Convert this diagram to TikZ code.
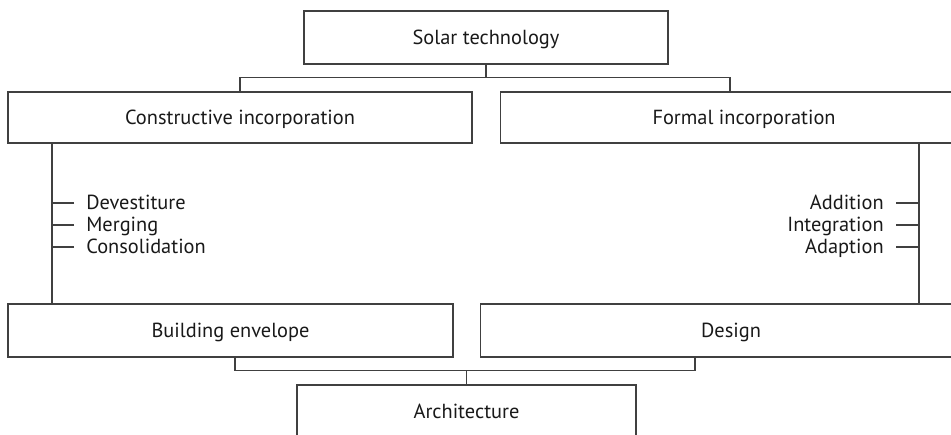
\documentclass[tikz,border=0pt]{standalone}
\usepackage{fontspec}
\setmainfont{PT Sans}
\usetikzlibrary{positioning}
\tikzset{
    block/.style={
        rectangle,
        draw=black!75,
        line width=0.65pt,
        minimum height=1.06cm,
        text height=7.8pt,
        text depth=0pt,
        text=black!90,
        font=\fontsize{11.6}{13}\selectfont
    },
    item/.style={
        inner xsep=0.24cm,
        inner ysep=0pt,
        text height=7.8pt,
        text depth=0pt,
        text=black!90,
        font=\fontsize{11.6}{13}\selectfont
    },
    link/.style={
        draw=black!75,
        line width=0.65pt
    }
}

\begin{document}
\begin{tikzpicture}[x=0.02cm, y=-0.02cm]

\path[use as bounding box] (0,0) rectangle (951,434);
\clip (0,0) rectangle (951,434);

% boxes
\node[block, minimum width=7.28cm] (solar) at (486,37.5) {Solar technology};
\node[block, minimum width=9.28cm, minimum height=1.02cm] (constr) at (240,117.5) {Constructive incorporation};
\node[block, minimum width=9.76cm, minimum height=1.02cm, right=0.54cm of constr.east, anchor=west] (formal) {Formal incorporation};
\node[block, minimum width=8.9cm] (envelope) at (230.5,330.5) {Building envelope};
\node[block, minimum width=10.04cm, right=0.52cm of envelope.east, anchor=west] (design) {Design};
\node[block, minimum width=6.78cm] (arch) at (466.5,411.5) {Architecture};

% sub items
\node[item, anchor=west] (devest) at (74,203) {Devestiture};
\node[item, anchor=west] (merg) at (74,225) {Merging};
\node[item, anchor=west] (consol) at (74,247) {Consolidation};
\node[item, anchor=east] (addit) at (896,203) {Addition};
\node[item, anchor=east] (integ) at (896,225) {Integration};
\node[item, anchor=east] (adapt) at (896,247) {Adaption};

% fork below the top box
\path (solar.south) ++(0,13) coordinate (split);
\draw[link] (solar.south) -- (split);
\draw[link] (constr.north) |- (split) -| ([xshift=-0.28cm]formal.north);

% spines with their ticks
\coordinate (lspine) at ([xshift=-3.76cm]constr.south);
\coordinate (rspine) at ([xshift=3.5cm]formal.south);
\draw[link] (lspine) -- (lspine |- envelope.north);
\draw[link] (rspine) -- (rspine |- design.north);
\draw[link] (devest.west) -- (devest.west -| lspine);
\draw[link] (merg.west) -- (merg.west -| lspine);
\draw[link] (consol.west) -- (consol.west -| lspine);
\draw[link] (addit.east) -- (addit.east -| rspine);
\draw[link] (integ.east) -- (integ.east -| rspine);
\draw[link] (adapt.east) -- (adapt.east -| rspine);

% join above the bottom box
\path (arch.north) ++(0,-14) coordinate (join);
\draw[link] (arch.north) -- (join);
\draw[link] ([xshift=0.09cm]envelope.south) |- (join) -| ([xshift=-0.72cm]design.south);

\end{tikzpicture}
\end{document}
